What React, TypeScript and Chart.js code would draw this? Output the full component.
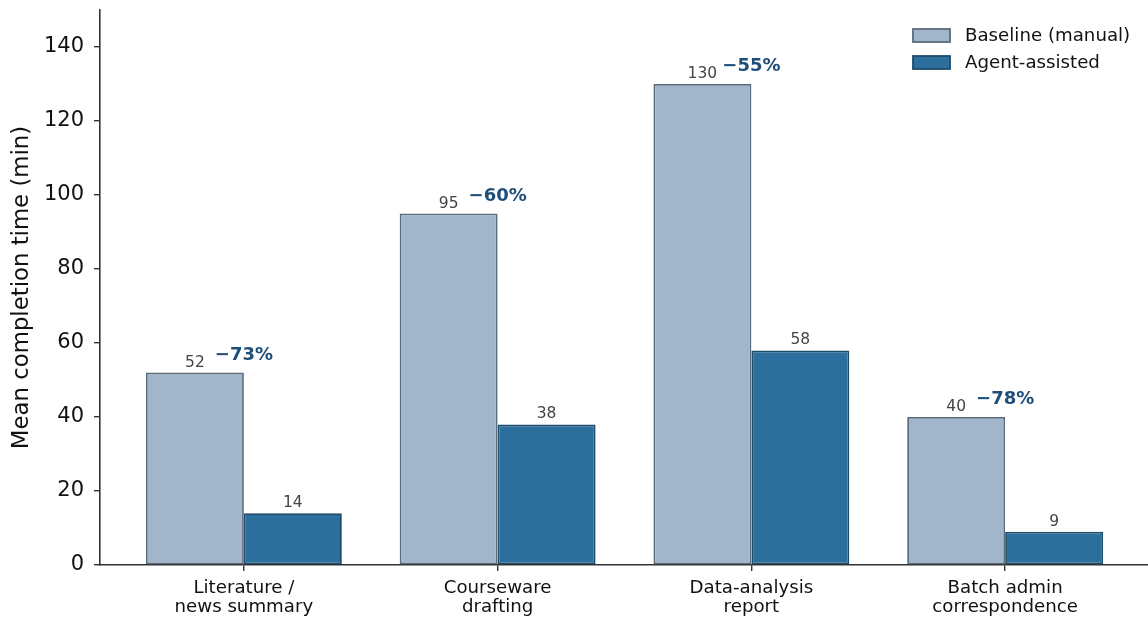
import React, { useEffect, useRef } from "react";
import { Chart, registerables } from "chart.js";

Chart.register(...registerables);

const categories: string[][] = [
  ["Literature /", "news summary"],
  ["Courseware", "drafting"],
  ["Data-analysis", "report"],
  ["Batch admin", "correspondence"],
];
const baselineValues = [52, 95, 130, 40];
const agentValues = [14, 38, 58, 9];
const reductionLabels = ["\u221273%", "\u221260%", "\u221255%", "\u221278%"];
const yTickValues = [0, 20, 40, 60, 80, 100, 120, 140];
const seriesNames = ["Baseline (manual)", "Agent-assisted"];

const FONT = "'DejaVu Sans', 'Liberation Sans', sans-serif";
const fills = ["#a1b6ca", "#2c6e9c"];
const edges = ["#5b6b7a", "#1f4b6b"];

const labelPlugin = {
  id: "annotations",
  afterDatasetsDraw(chart: any) {
    const ctx = chart.ctx;
    const values = [baselineValues, agentValues];
    ctx.save();
    ctx.textAlign = "center";
    ctx.textBaseline = "alphabetic";
    ctx.font = `15.5px ${FONT}`;
    ctx.fillStyle = "#444444";
    values.forEach((vals, di) => {
      const meta = chart.getDatasetMeta(di);
      meta.data.forEach((el: any, i: number) => {
        ctx.fillText(String(vals[i]), el.x, el.y - 6);
      });
    });
    ctx.font = `bold 18px ${FONT}`;
    ctx.fillStyle = "#1f4e79";
    const xs = chart.scales.x;
    const ys = chart.scales.y;
    reductionLabels.forEach((r, i) => {
      ctx.fillText(r, xs.getPixelForValue(i), ys.getPixelForValue(baselineValues[i]) - 13);
    });

    // legend
    const right = chart.chartArea.right;
    const bx = right - 235;
    const rows = [35.5, 62.5];
    ctx.textAlign = "left";
    ctx.textBaseline = "middle";
    ctx.font = `18.2px ${FONT}`;
    seriesNames.forEach((name, i) => {
      const cy = rows[i];
      ctx.fillStyle = fills[i];
      ctx.fillRect(bx, cy - 6.5, 37, 13);
      ctx.strokeStyle = edges[i];
      ctx.lineWidth = 1.8;
      ctx.strokeRect(bx, cy - 6.5, 37, 13);
      ctx.fillStyle = "#111111";
      ctx.fillText(name, bx + 52, cy + 1);
    });
    ctx.restore();
  },
};

export default function App() {
  const canvasRef = useRef<HTMLCanvasElement | null>(null);

  useEffect(() => {
    if (!canvasRef.current) return;
    Chart.defaults.font.family = FONT;
    const chart = new Chart(canvasRef.current, {
      type: "bar",
      data: {
        datasets: [
          {
            label: seriesNames[0],
            data: baselineValues.map((v, i) => ({ x: i, y: v })),
            backgroundColor: fills[0],
            borderColor: edges[0],
            borderWidth: 1.8,
            borderSkipped: false,
            categoryPercentage: 0.772,
            barPercentage: 1.0,
          },
          {
            label: seriesNames[1],
            data: agentValues.map((v, i) => ({ x: i, y: v })),
            backgroundColor: fills[1],
            borderColor: edges[1],
            borderWidth: 1.8,
            borderSkipped: false,
            categoryPercentage: 0.772,
            barPercentage: 1.0,
          },
        ] as any,
      },
      options: {
        animation: false,
        responsive: false,
        devicePixelRatio: 1,
        layout: { padding: { top: 10, left: 0, right: 0, bottom: 0 } },
        plugins: {
          legend: { display: false },
          tooltip: { enabled: false },
        },
        scales: {
          x: {
            type: "linear",
            offset: false,
            min: -0.567,
            max: 3.563,
            afterBuildTicks: (scale: any) => {
              scale.ticks = categories.map((_, i) => ({ value: i }));
            },
            afterFit: (scale: any) => {
              scale.height = 56;
              scale.paddingLeft = 0;
              scale.paddingRight = 0;
            },
            ticks: {
              autoSkip: false,
              maxRotation: 0,
              padding: 7,
              color: "#111111",
              font: { size: 18.2, lineHeight: 1.08 },
              callback: (v: any) => categories[Math.round(Number(v))] ?? "",
            },
            grid: {
              display: true,
              offset: false,
              drawOnChartArea: false,
              drawTicks: true,
              tickLength: 6,
              color: "#333333",
              lineWidth: 1.4,
            },
            border: { display: true, color: "#333333", width: 1.6 },
          },
          y: {
            type: "linear",
            min: 0,
            max: 150,
            afterBuildTicks: (scale: any) => {
              scale.ticks = yTickValues.map((v) => ({ value: v }));
            },
            afterFit: (scale: any) => {
              scale.width = 100;
              scale.paddingTop = 0;
              scale.paddingBottom = 0;
            },
            ticks: {
              padding: 10,
              color: "#111111",
              font: { size: 21 },
            },
            grid: {
              display: true,
              drawOnChartArea: false,
              drawTicks: true,
              tickLength: 6,
              color: "#333333",
              lineWidth: 1.4,
            },
            border: { display: true, color: "#333333", width: 1.6 },
            title: {
              display: true,
              text: "Mean completion time (min)",
              color: "#111111",
              font: { size: 22.8 },
              padding: { top: 8, bottom: 0 },
            },
          },
        },
      } as any,
      plugins: [labelPlugin],
    });
    return () => chart.destroy();
  }, []);

  return (
    <div style={{ position: "fixed", left: 0, top: 0, width: 1148, height: 621, background: "#ffffff" }}>
      <canvas ref={canvasRef} width={1148} height={621} style={{ width: 1148, height: 621, display: "block" }} />
    </div>
  );
}
